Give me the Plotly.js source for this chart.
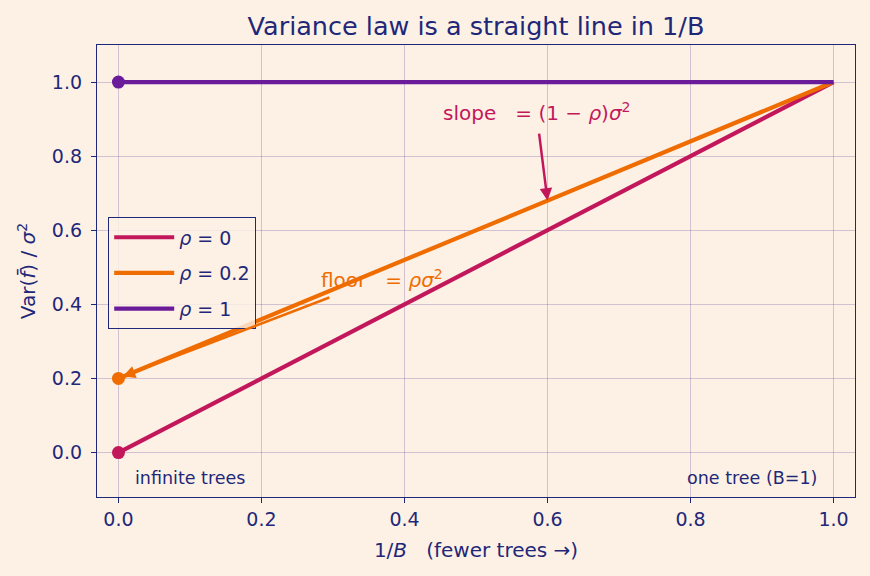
<!DOCTYPE html>
<html><head><meta charset="utf-8">
<script src="https://cdn.plot.ly/plotly-3.0.1.min.js"></script>
<style>html,body{margin:0;padding:0;background:#fdf1e6;}</style>
</head><body><div id="chart" style="width:870px;height:576px;"></div>
<script>
const invB = [0, 1];
const rhos = [0, 0.2, 1];
const seriesNames = ['<i>ρ</i> = 0', '<i>ρ</i> = 0.2', '<i>ρ</i> = 1'];
const varRho0 = [0, 1];
const varRho02 = [0.2, 1];
const varRho1 = [1, 1];
const colors = ['#c2185b', '#ef6c00', '#6a1b9a'];
const navy = '#1f2878';
const ys = [varRho0, varRho02, varRho1];

const traces = [];
ys.forEach((y, i) => {
  traces.push({
    x: invB, y: y, type: 'scatter', mode: 'lines', name: seriesNames[i], legendgroup: 'g' + i,
    line: {color: colors[i], width: 4.2}
  });
});
ys.forEach((y, i) => {
  traces.push({
    x: [invB[0]], y: [y[0]], type: 'scatter', mode: 'markers', showlegend: false, hoverinfo: 'skip',
    marker: {color: colors[i], size: 13, opacity: 1, line: {width: 0}}
  });
});

const font = {family: 'DejaVu Sans, sans-serif', color: navy};
const grid = 'rgba(100,70,150,0.28)';
const layout = {
  width: 870, height: 576,
  paper_bgcolor: '#fdf1e6', plot_bgcolor: '#fdf1e6',
  font: font,
  margin: {l: 97, r: 15, t: 45, b: 79},
  title: {text: 'Variance law is a straight line in 1/B', font: {size: 25.5, color: navy}, xref: 'paper', x: 0.5, xanchor: 'center', y: 0.955, yanchor: 'middle'},
  xaxis: {range: [-0.03, 1.03], tickvals: [0, 0.2, 0.4, 0.6, 0.8, 1.0], ticktext: ['0.0','0.2','0.4','0.6','0.8','1.0'],
    showgrid: true, gridcolor: grid, gridwidth: 1, zeroline: false,
    showline: true, mirror: true, linecolor: navy, linewidth: 1.3,
    ticks: 'outside', ticklen: 5, tickcolor: navy, tickfont: {size: 19, color: navy},
    title: {text: '1/<i>B</i>   (fewer trees →)', font: {size: 20, color: navy}, standoff: 14}},
  yaxis: {range: [-0.12, 1.1], tickvals: [0, 0.2, 0.4, 0.6, 0.8, 1.0], ticktext: ['0.0','0.2','0.4','0.6','0.8','1.0'],
    showgrid: true, gridcolor: grid, gridwidth: 1, zeroline: false,
    showline: true, mirror: true, linecolor: navy, linewidth: 1.3,
    ticks: 'outside', ticklen: 5, tickcolor: navy, tickfont: {size: 19, color: navy}, ticklabelstandoff: 5,
    title: {text: 'Var(<i>f̄</i>) / <i>σ</i><sup>2</sup>', font: {size: 20, color: navy}, standoff: 10}},
  legend: {x: 0.0145, y: 0.619, xanchor: 'left', yanchor: 'top', bgcolor: 'rgba(253,241,230,0.8)',
    bordercolor: navy, borderwidth: 1.2, font: {size: 19, color: navy}, tracegroupgap: 8, itemwidth: 60},
  showlegend: true,
  annotations: [
    {x: 0.6, y: 0.68, ax: 0.588, ay: 0.865, xref: 'x', yref: 'y', axref: 'x', ayref: 'y', text: '',
     showarrow: true, arrowhead: 2, arrowsize: 1, arrowwidth: 2.5, arrowcolor: '#c2185b'},
    {x: 0.451, y: 0.92, xref: 'x', yref: 'y', xanchor: 'left', yanchor: 'middle', showarrow: false,
     text: 'slope   = (1 − <i>ρ</i>)<i>σ</i><sup>2</sup>', font: {size: 20, color: '#c2185b'}},
    {x: 0.006, y: 0.205, ax: 0.297, ay: 0.42, xref: 'x', yref: 'y', axref: 'x', ayref: 'y', text: '',
     showarrow: true, arrowhead: 2, arrowsize: 1, arrowwidth: 2.5, arrowcolor: '#ef6c00'},
    {x: 0.28, y: 0.468, xref: 'x', yref: 'y', xanchor: 'left', yanchor: 'middle', showarrow: false,
     text: 'floor   = <i>ρσ</i><sup>2</sup>', font: {size: 20, color: '#ef6c00'}},
    {x: 0.02, y: -0.068, xref: 'x', yref: 'y', xanchor: 'left', yanchor: 'middle', showarrow: false,
     text: 'infinite trees', font: {size: 17.5, color: navy}},
    {x: 0.98, y: -0.068, xref: 'x', yref: 'y', xanchor: 'right', yanchor: 'middle', showarrow: false,
     text: 'one tree (B=1)', font: {size: 17.5, color: navy}}
  ]
};
Plotly.newPlot('chart', traces, layout, {displayModeBar: false});
</script></body></html>
